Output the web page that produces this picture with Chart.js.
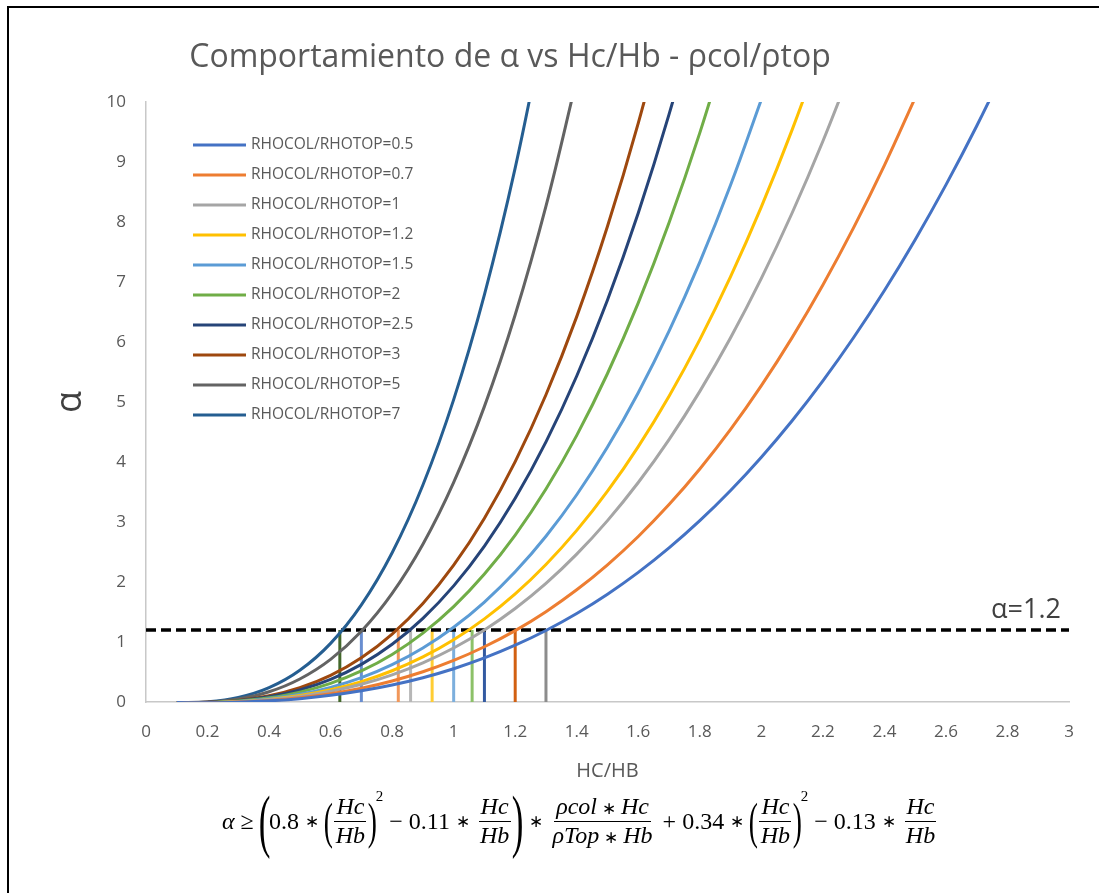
<!DOCTYPE html>
<html>
<head>
<meta charset="utf-8">
<script src="https://cdn.jsdelivr.net/npm/chart.js@4.4.1/dist/chart.umd.min.js"></script>
<style>
  body { margin: 0; background: #fff; overflow: hidden; }
  #wrap { position: relative; width: 1099px; height: 893px; overflow: hidden; }
  #myChart { position: absolute; left: 0; top: 0; }
  #frame { position: absolute; left: 7px; top: 6px; width: 1200px; height: 1000px;
           border-left: 2px solid #000; border-top: 2px solid #000; }
  #formula { position: absolute; left: 222px; top: 786px; height: 70px; display: flex;
             align-items: center; font-family: "Liberation Serif", serif; font-size: 24px; color: #000;
             white-space: nowrap; }
  #formula i { font-style: italic; }
  #formula .op { margin: 0 6px; }
  #formula .st { font-size: 17px; margin: 0 6px; }
  #formula .frac { display: inline-flex; flex-direction: column; align-items: center; margin: 0 2px; }
  #formula .frac > span { padding: 0 2px; line-height: 1.15; }
  #formula .frac > span:first-child { border-bottom: 1.5px solid #000; }
  #formula .frac .st { margin: 0 5px; }
  #formula .p { font-size: 50px; line-height: 1; display: inline-block; transform: scaleX(0.55); margin: 0 -5px; }
  #formula .bp { font-size: 70px; line-height: 1; display: inline-block; transform: scaleX(0.5); margin: 0 -7px; }
  #formula sup { font-size: 15px; align-self: flex-start; margin-top: 2px; }
</style>
</head>
<body>
<div id="wrap">
  <canvas id="myChart" width="1099" height="893"></canvas>
  <div id="frame"></div>
  <div id="formula">
    <i>α</i><span class="op">≥</span>
    <span class="bp">(</span>0.8<span class="st">∗</span>
    <span class="p">(</span><span class="frac"><span><i>Hc</i></span><span><i>Hb</i></span></span><span class="p">)</span><sup>2</sup>
    <span class="op">−</span>0.11<span class="st">∗</span>
    <span class="frac"><span><i>Hc</i></span><span><i>Hb</i></span></span>
    <span class="bp">)</span><span class="st">∗</span>
    <span class="frac"><span><i>ρcol</i><span class="st">∗</span><i>Hc</i></span><span><i>ρTop</i><span class="st">∗</span><i>Hb</i></span></span>
    <span class="op">+</span>0.34<span class="st">∗</span>
    <span class="p">(</span><span class="frac"><span><i>Hc</i></span><span><i>Hb</i></span></span><span class="p">)</span><sup>2</sup>
    <span class="op">−</span>0.13<span class="st">∗</span>
    <span class="frac"><span><i>Hc</i></span><span><i>Hb</i></span></span>
  </div>
</div>

<script>
// data

let hcHb = [0.1, 0.2, 0.3, 0.4, 0.5, 0.6, 0.7, 0.8, 0.9, 1.0, 1.1, 1.2, 1.3, 1.4,
  1.5, 1.6, 1.7, 1.8, 1.9, 2.0, 2.1, 2.2, 2.3, 2.4, 2.5, 2.6, 2.7, 2.8];

let ratios = [0.5, 0.7, 1, 1.2, 1.5, 2, 2.5, 3, 5, 7];

let alpha05 = [-0.01, -0.011, -0.003, 0.019, 0.056, 0.111, 0.186, 0.283, 0.405, 0.555, 0.734,
  0.946, 1.191, 1.474, 1.796, 2.16, 2.568, 3.022, 3.525, 4.08, 4.688, 5.353, 6.075, 6.859,
  7.706, 8.619, 9.6, 10.651];
let alpha07 = [-0.01, -0.011, 0, 0.026, 0.071, 0.138, 0.23, 0.351, 0.504, 0.693, 0.921, 1.19,
  1.506, 1.87, 2.287, 2.759, 3.29, 3.884, 4.543, 5.272, 6.073, 6.95, 7.906, 8.944, 10.069];
let alpha1 = [-0.01, -0.01, 0.003, 0.036, 0.093, 0.178, 0.296, 0.453, 0.653, 0.9, 1.2, 1.558,
  1.977, 2.464, 3.023, 3.658, 4.374, 5.177, 6.071, 7.06, 8.15, 9.346, 10.651];
let alpha12 = [-0.01, -0.01, 0.006, 0.043, 0.107, 0.204, 0.34, 0.521, 0.751, 1.038, 1.386,
  1.802, 2.292, 2.86, 3.513, 4.257, 5.097, 6.039, 7.089, 8.252, 9.535, 10.943];
let alpha15 = [-0.01, -0.009, 0.009, 0.053, 0.129, 0.244, 0.406, 0.622, 0.9, 1.245, 1.666,
  2.17, 2.763, 3.454, 4.249, 5.155, 6.18, 7.331, 8.616, 10.04];
let alpha2 = [-0.01, -0.008, 0.015, 0.07, 0.165, 0.311, 0.517, 0.792, 1.147, 1.59, 2.132,
  2.782, 3.549, 4.444, 5.475, 6.653, 7.987, 9.486, 11.161];
let alpha25 = [-0.01, -0.007, 0.021, 0.086, 0.201, 0.377, 0.627, 0.962, 1.394, 1.935, 2.598,
  3.394, 4.335, 5.433, 6.701, 8.15, 9.793, 11.641];
let alpha3 = [-0.011, -0.006, 0.027, 0.103, 0.238, 0.444, 0.737, 1.131, 1.641, 2.28, 3.064,
  4.006, 5.121, 6.423, 7.928, 9.648, 11.599];
let alpha5 = [-0.011, -0.002, 0.05, 0.17, 0.383, 0.71, 1.178, 1.81, 2.629, 3.66, 4.927,
  6.454, 8.264, 10.382];
let alpha7 = [-0.012, 0.002, 0.074, 0.238, 0.528, 0.977, 1.619, 2.488, 3.617, 5.04, 6.79,
  8.902, 11.408];

// Hc/Hb where each curve meets alpha = 1.2
let cutX = [0.63, 0.70, 0.82, 0.86, 0.93, 1.0, 1.06, 1.1, 1.2, 1.3];
let alphaLimit = 1.2;

let xMin = 0;
let xMax = 3;
let xStep = 0.2;
let yMin = 0;
let yMax = 10;
let yStep = 1;

// styles

let curveColors = ["#4472C4", "#ED7D31", "#A5A5A5", "#FFC000", "#5B9BD5",
  "#70AD47", "#264478", "#9E480E", "#636363", "#255E91"];
let cutColors = ["#43682B", "#698ED0", "#F1975A", "#B7B7B7", "#FFCD33",
  "#7CAFDD", "#8CC168", "#335AA1", "#D26012", "#8C8C8C"];
let textColor = "#595959";
let fontName = "'Open Sans', sans-serif";

// build datasets

let curves = [alpha05, alpha07, alpha1, alpha12, alpha15, alpha2, alpha25, alpha3, alpha5, alpha7];
let datasets = [];

for (let i = 0; i < curves.length; i++) {
  let pts = [];
  for (let j = 0; j < curves[i].length; j++) {
    pts.push({ x: hcHb[j], y: curves[i][j] });
  }
  datasets.push({
    label: "RHOCOL/RHOTOP=" + ratios[i],
    data: pts,
    borderColor: curveColors[i],
    borderWidth: 3,
    tension: 0.4,
    showLine: true,
    pointRadius: 0,
    isCurve: true,
  });
}

// the dashed alpha = 1.2 line
datasets.push({
  label: "limit",
  data: [{ x: xMin, y: alphaLimit }, { x: xMax, y: alphaLimit }],
  borderColor: "#000",
  borderWidth: 3.5,
  borderDash: [10, 5],
  showLine: true,
  pointRadius: 0,
});

// vertical drops from each crossing
for (let i = 0; i < cutX.length; i++) {
  datasets.push({
    label: "cut " + cutX[i],
    data: [{ x: cutX[i], y: 0 }, { x: cutX[i], y: alphaLimit }],
    borderColor: cutColors[i],
    borderWidth: 3,
    showLine: true,
    pointRadius: 0,
  });
}

// title, legend and the alpha=1.2 note
const extrasPlugin = {
  id: "extras",
  afterDatasetsDraw(chart) {
    const ctx = chart.ctx;
    const area = chart.chartArea;
    ctx.save();

    ctx.fillStyle = textColor;
    ctx.font = "32px " + fontName;
    ctx.textAlign = "center";
    ctx.textBaseline = "middle";
    ctx.fillText("Comportamiento de α vs Hc/Hb - ρcol/ρtop", 510, 58);

    ctx.font = "15.5px " + fontName;
    ctx.textAlign = "left";
    let k = 0;
    chart.data.datasets.forEach((ds) => {
      if (!ds.isCurve) return;
      let y = area.top + 43 + k * 30;
      ctx.strokeStyle = ds.borderColor;
      ctx.lineWidth = 3;
      ctx.beginPath();
      ctx.moveTo(area.left + 47, y);
      ctx.lineTo(area.left + 100, y);
      ctx.stroke();
      ctx.fillStyle = textColor;
      ctx.fillText(ds.label, area.left + 105, y);
      k++;
    });

    const xs = chart.scales.x;
    const ys = chart.scales.y;
    ctx.font = "27px " + fontName;
    ctx.fillStyle = "#404040";
    ctx.textAlign = "right";
    ctx.textBaseline = "bottom";
    ctx.fillText("α=" + alphaLimit, xs.getPixelForValue(xMax) - 8, ys.getPixelForValue(alphaLimit) - 6);
    ctx.restore();
  },
};

const config = {
  type: "scatter",
  data: { datasets: datasets },
  options: {
    responsive: false,
    animation: false,
    devicePixelRatio: 1,
    layout: { padding: { left: 10, top: 102, right: 30, bottom: 101 } },
    plugins: {
      legend: { display: false },
      tooltip: { enabled: false },
      title: { display: false },
    },
    scales: {
      x: {
        type: "linear",
        min: xMin,
        max: xMax,
        afterFit: (s) => { s.height = 90; },
        grid: { display: false, drawTicks: false },
        border: { color: "#c8c8c8", width: 1.5 },
        ticks: {
          stepSize: xStep,
          padding: 20,
          color: textColor,
          font: { family: fontName, size: 17 },
          callback: (v) => String(Math.round(v * 10) / 10),
        },
        title: {
          display: true,
          text: "HC/HB",
          color: textColor,
          font: { family: fontName, size: 20 },
          padding: { top: 0, bottom: 9 },
        },
      },
      y: {
        min: yMin,
        max: yMax,
        afterFit: (s) => { s.width = 136; },
        grid: { display: false, drawTicks: false },
        border: { color: "#c8c8c8", width: 1.5 },
        ticks: {
          stepSize: yStep,
          padding: 20,
          color: textColor,
          font: { family: fontName, size: 17 },
        },
        title: {
          display: true,
          text: "α",
          color: "#404040",
          font: { family: fontName, size: 36 },
          padding: { top: 39, bottom: 0 },
        },
      },
    },
  },
  plugins: [extrasPlugin],
};

let canvasChart = document.getElementById("myChart").getContext("2d");
const myChart = new Chart(canvasChart, config);
</script>
</body>
</html>
